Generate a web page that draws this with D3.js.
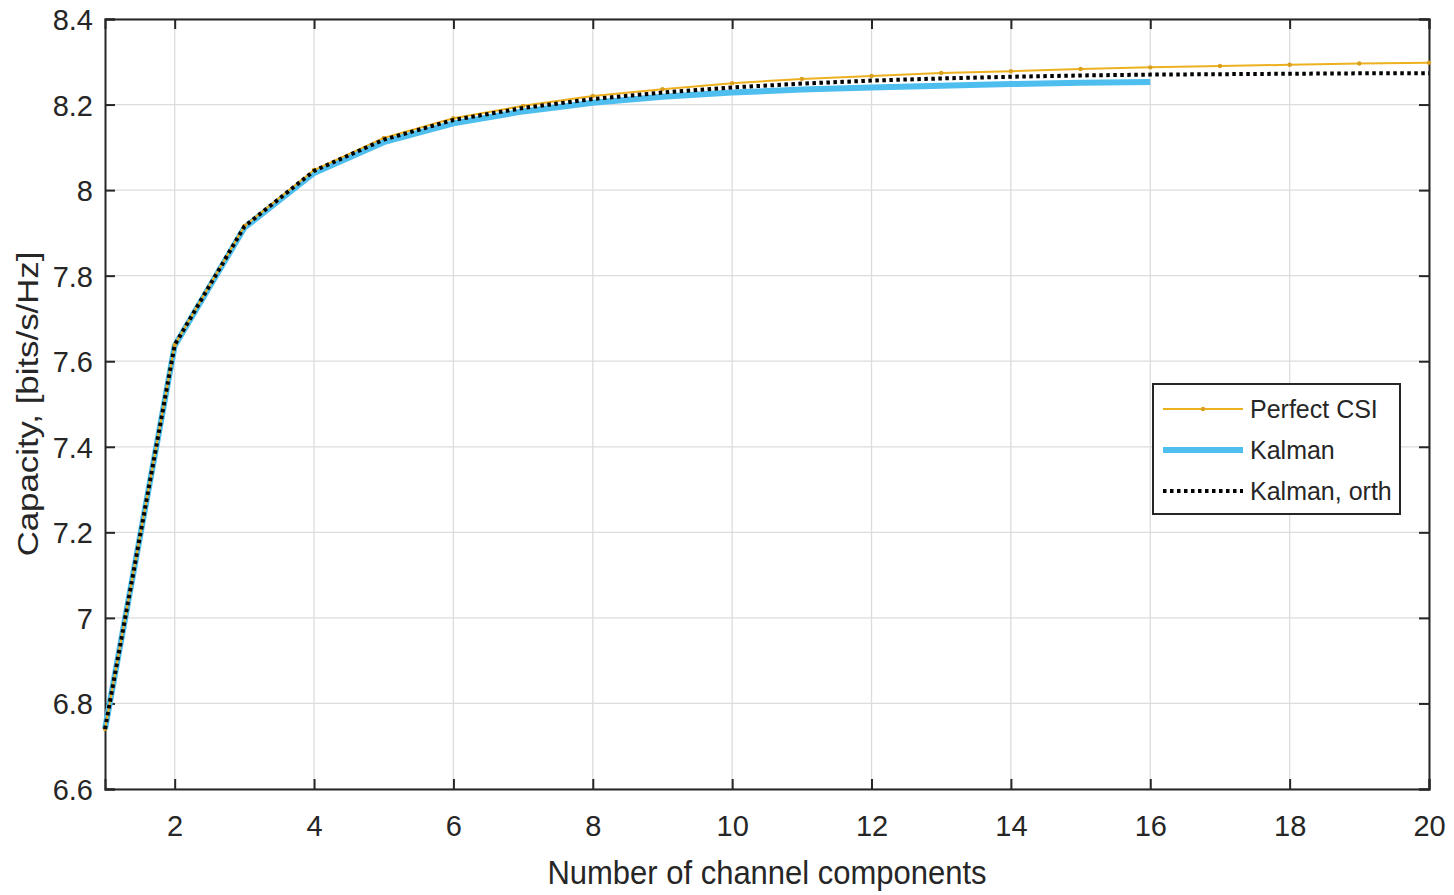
<!DOCTYPE html>
<html><head><meta charset="utf-8">
<script src="https://cdn.jsdelivr.net/npm/d3@7"></script>
<style>body{margin:0;background:#fff}svg{display:block}</style>
</head><body>
<svg id="c" width="1454" height="895"></svg>
<script>
const xValues = [1,2,3,4,5,6,7,8,9,10,11,12,13,14,15,16,17,18,19,20];
const perfectCSI = [6.74,7.638,7.916,8.047,8.122,8.168,8.197,8.220,8.236,8.250,8.260,8.267,8.274,8.278,8.283,8.287,8.290,8.293,8.296,8.298];
const kalmanX = [1,2,3,4,5,6,7,8,9,10,11,12,13,14,15,16];
const kalman = [6.74,7.636,7.912,8.040,8.112,8.156,8.184,8.204,8.218,8.228,8.235,8.240,8.244,8.248,8.251,8.253];
const kalmanOrth = [6.74,7.638,7.915,8.045,8.118,8.164,8.192,8.213,8.228,8.240,8.249,8.256,8.261,8.265,8.268,8.270,8.271,8.272,8.273,8.273];
const xTicks = [2,4,6,8,10,12,14,16,18,20];
const yTicks = [6.6,6.8,7,7.2,7.4,7.6,7.8,8,8.2,8.4];
const seriesNames = ["Perfect CSI","Kalman","Kalman, orth"];

const svg = d3.select("#c");
const L=105, R=1429, T=19, B=789;
const x = d3.scaleLinear().domain([1,20]).range([L,R]);
const y = d3.scaleLinear().domain([6.6,8.4]).range([B,T]);
const font = "'Liberation Sans',Arial,Helvetica,sans-serif";
const ink = "#262626";

// grid
const g = svg.append("g");
g.selectAll(".gx").data(xTicks).enter().append("line")
 .attr("x1",d=>x(d)).attr("x2",d=>x(d)).attr("y1",T).attr("y2",B)
 .attr("stroke","#dcdcdc").attr("stroke-width",1.3);
g.selectAll(".gy").data(yTicks).enter().append("line")
 .attr("y1",d=>y(d)).attr("y2",d=>y(d)).attr("x1",L).attr("x2",R)
 .attr("stroke","#dcdcdc").attr("stroke-width",1.3);

// axes
const ax = svg.append("g").attr("transform",`translate(0,${B})`)
 .call(d3.axisBottom(x).tickValues(xTicks).tickSize(-10).tickFormat(d3.format("d")));
const ay = svg.append("g").attr("transform",`translate(${L},0)`)
 .call(d3.axisLeft(y).tickValues(yTicks).tickSize(-10).tickFormat(d=>String(+d.toFixed(1))));
const axT = svg.append("g").attr("transform",`translate(0,${T})`)
 .call(d3.axisTop(x).tickValues(xTicks).tickSize(-10).tickFormat(""));
const axR = svg.append("g").attr("transform",`translate(${R},0)`)
 .call(d3.axisRight(y).tickValues(yTicks).tickSize(-10).tickFormat(""));
[ax,ay,axT,axR].forEach(a=>{
  a.select(".domain").attr("stroke",ink).attr("stroke-width",2);
  a.selectAll(".tick line").attr("stroke",ink).attr("stroke-width",2);
  a.selectAll("text").attr("font-family",font).attr("font-size",29).attr("fill",ink);
});
ax.selectAll(".tick text").attr("y",37).attr("dy","0.36em");
ay.selectAll(".tick text").attr("x",-12).attr("dy","0.36em");

// lines
const lineP = d3.line().x((d,i)=>x(xValues[i])).y(d=>y(d));
const lineK = d3.line().x((d,i)=>x(kalmanX[i])).y(d=>y(d));
svg.append("path").datum(kalman).attr("d",lineK).attr("fill","none")
 .attr("stroke","#4DBEEE").attr("stroke-width",6);
svg.append("path").datum(perfectCSI).attr("d",lineP).attr("fill","none")
 .attr("stroke","#EDB120").attr("stroke-width",2);
svg.selectAll(".pm").data(perfectCSI).enter().append("circle")
 .attr("cx",(d,i)=>x(xValues[i])).attr("cy",d=>y(d)).attr("r",2.2).attr("fill","#D9A020");
svg.append("path").datum(kalmanOrth).attr("d",lineP).attr("fill","none")
 .attr("stroke","#000").attr("stroke-width",4).attr("stroke-dasharray","3.5,3.5");

// legend
const lg = svg.append("g");
lg.append("rect").attr("x",1153).attr("y",384).attr("width",247).attr("height",130)
 .attr("fill","#fff").attr("stroke",ink).attr("stroke-width",2);
const ly = [409,450,491];
const styles = [
 {c:"#EDB120",w:2,dash:null},
 {c:"#4DBEEE",w:6,dash:null},
 {c:"#000",w:4,dash:"3.5,3.5"}];
seriesNames.forEach((n,i)=>{
  const s=styles[i];
  const ln = lg.append("line").attr("x1",1163).attr("x2",1243).attr("y1",ly[i]).attr("y2",ly[i])
   .attr("stroke",s.c).attr("stroke-width",s.w);
  if(s.dash) ln.attr("stroke-dasharray",s.dash);
  if(i===0) lg.append("circle").attr("cx",1203).attr("cy",ly[i]).attr("r",2.2).attr("fill","#D9A020");
  lg.append("text").attr("x",1250).attr("y",ly[i]).attr("dy","0.36em")
   .attr("font-family",font).attr("font-size",25).attr("fill",ink).text(n);
});

// axis labels
svg.append("text").attr("transform",`translate(${(L+R)/2},872) scale(1,1.05)`).attr("dy","0.36em").attr("text-anchor","middle")
 .attr("font-family",font).attr("font-size",31).attr("fill",ink).text("Number of channel components");
svg.append("text").attr("transform",`translate(28,${(T+B)/2}) rotate(-90) scale(1.2,1)`).attr("dy","0.36em")
 .attr("text-anchor","middle").attr("font-family",font).attr("font-size",29).attr("fill",ink)
 .text("Capacity, [bits/s/Hz]");
</script>
</body></html>
